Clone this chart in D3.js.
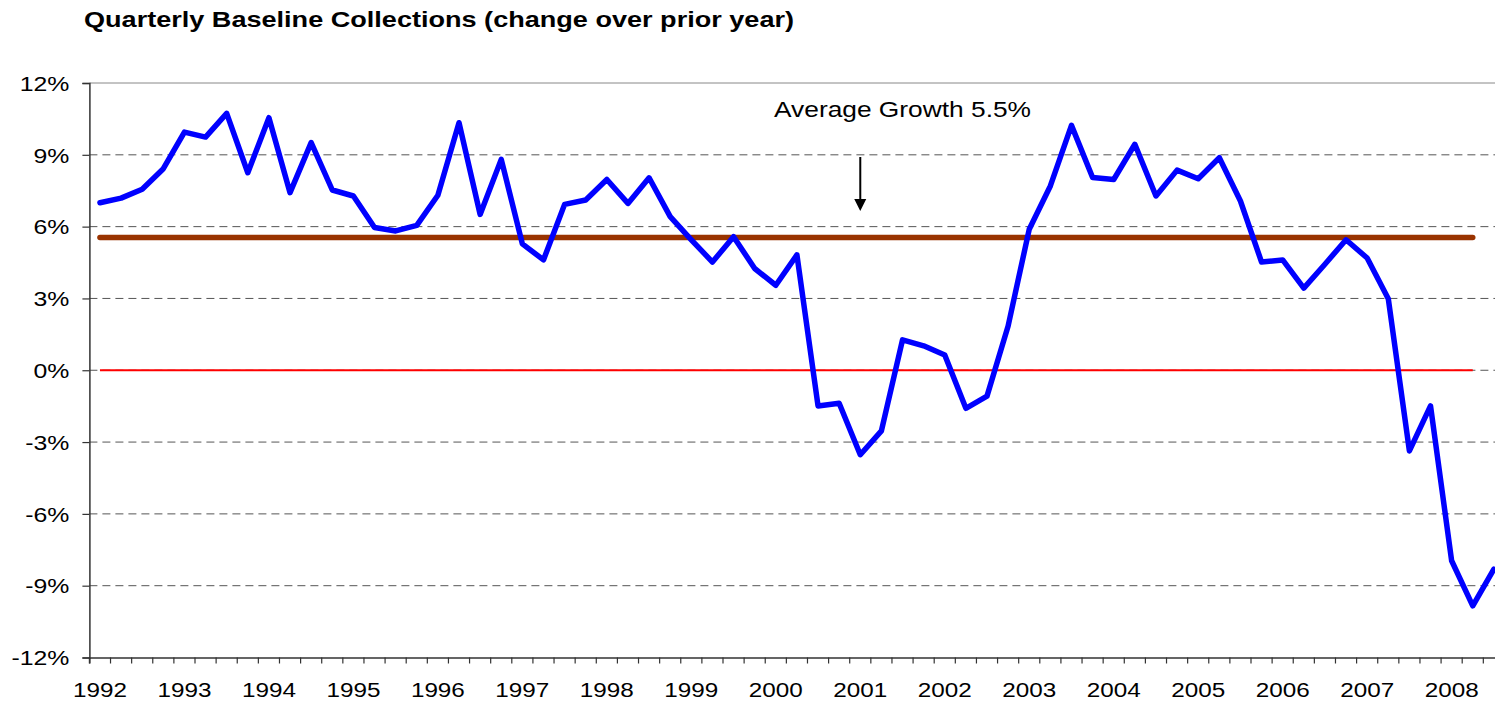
<!DOCTYPE html>
<html>
<head>
<meta charset="utf-8">
<script src="https://cdn.jsdelivr.net/npm/d3@7"></script>
<style>
  html, body { margin: 0; padding: 0; background: #fff; overflow: hidden; }
  text { font-family: "Liberation Sans", Arial, sans-serif; fill: #000; }
</style>
</head>
<body>
<svg id="chart" width="1495" height="703"></svg>
<script>
// ---- Data ----
const quarters = [
  "1992Q1","1992Q2","1992Q3","1992Q4","1993Q1","1993Q2","1993Q3","1993Q4",
  "1994Q1","1994Q2","1994Q3","1994Q4","1995Q1","1995Q2","1995Q3","1995Q4",
  "1996Q1","1996Q2","1996Q3","1996Q4","1997Q1","1997Q2","1997Q3","1997Q4",
  "1998Q1","1998Q2","1998Q3","1998Q4","1999Q1","1999Q2","1999Q3","1999Q4",
  "2000Q1","2000Q2","2000Q3","2000Q4","2001Q1","2001Q2","2001Q3","2001Q4",
  "2002Q1","2002Q2","2002Q3","2002Q4","2003Q1","2003Q2","2003Q3","2003Q4",
  "2004Q1","2004Q2","2004Q3","2004Q4","2005Q1","2005Q2","2005Q3","2005Q4",
  "2006Q1","2006Q2","2006Q3","2006Q4","2007Q1","2007Q2","2007Q3","2007Q4",
  "2008Q1","2008Q2","2008Q3"
];
const growth = [
  7.00, 7.19, 7.56, 8.42, 9.95, 9.74, 10.73, 8.25,
  10.55, 7.42, 9.51, 7.53, 7.28, 5.96, 5.82, 6.05,
  7.31, 10.34, 6.51, 8.81, 5.28, 4.61, 6.93, 7.11,
  7.97, 6.97, 8.04, 6.42, 5.45, 4.52, 5.58, 4.25,
  3.55, 4.82, -1.49, -1.38, -3.53, -2.53, 1.27, 1.02,
  0.64, -1.59, -1.08, 1.85, 5.89, 7.70, 10.23, 8.05,
  7.97, 9.44, 7.28, 8.36, 8.00, 8.88, 7.07, 4.52,
  4.61, 3.43, 4.43, 5.45, 4.69, 2.99, -3.37, -1.49,
  -7.96, -9.84, -8.31
];
const averageGrowth = 5.55;
const referenceRange = ["1992Q1", "2008Q2"];
const yTicks = [-12, -9, -6, -3, 0, 3, 6, 9, 12];
const yearLabels = ["1992","1993","1994","1995","1996","1997","1998","1999","2000",
                    "2001","2002","2003","2004","2005","2006","2007","2008"];
const titleText = "Quarterly Baseline Collections (change over prior year)";
const annotationText = "Average Growth 5.5%";

// ---- Layout ----
const svg = d3.select("#chart");
const plotLeft = 89.4, plotTop = 83, plotBottom = 657.5;
const bandW = 21.12;
const plotRight = plotLeft + bandW * quarters.length;

const x = d3.scaleBand().domain(quarters).range([plotLeft, plotRight]).padding(0);
const cx = q => x(q) + x.bandwidth() / 2;
const y = d3.scaleLinear().domain([-12, 12]).range([plotBottom, plotTop]);

function stretch(sel, sx) {
  sel.each(function () {
    const w = this.getComputedTextLength();
    this.setAttribute("textLength", w * sx);
    this.setAttribute("lengthAdjust", "spacingAndGlyphs");
  });
}
function fitWidth(sel, target) {
  sel.each(function () {
    this.setAttribute("textLength", target);
    this.setAttribute("lengthAdjust", "spacingAndGlyphs");
  });
}

// Gridlines
svg.append("g").selectAll("line")
  .data(yTicks.filter(d => d !== -12 && d !== 12))
  .join("line")
  .attr("x1", plotLeft).attr("x2", 1495)
  .attr("y1", d => y(d)).attr("y2", d => y(d))
  .attr("stroke", "#555").attr("stroke-width", 1)
  .attr("stroke-dasharray", "8,5");
svg.append("line")
  .attr("x1", plotLeft).attr("x2", 1495)
  .attr("y1", y(12)).attr("y2", y(12))
  .attr("stroke", "#888").attr("stroke-width", 1);

// Left axis
const yAxis = svg.append("g")
  .attr("transform", `translate(${plotLeft},0)`)
  .call(d3.axisLeft(y).tickValues(yTicks).tickSize(7).tickPadding(0)
        .tickFormat(d => d + "%"));
yAxis.select(".domain").attr("stroke", "#333").attr("stroke-width", 1.5);
yAxis.selectAll(".tick line").attr("stroke", "#333").attr("stroke-width", 1.2);
yAxis.selectAll(".tick text")
  .attr("x", -20).attr("dy", "0.36em")
  .style("font-size", "20px").style("font-family", "'Liberation Sans', Arial, sans-serif")
  .attr("fill", "#000");
stretch(yAxis.selectAll(".tick text"), 1.24);

// Bottom axis
const xAxis = svg.append("g")
  .attr("transform", `translate(0,${plotBottom})`)
  .call(d3.axisBottom(x).tickSize(6).tickPadding(0)
        .tickFormat(q => q.endsWith("Q1") && yearLabels.includes(q.slice(0, 4)) ? q.slice(0, 4) : ""));
xAxis.select(".domain").attr("stroke", "#333").attr("stroke-width", 1.5);
xAxis.selectAll(".tick line")
  .attr("transform", `translate(${-x.bandwidth() / 2},0)`)
  .attr("stroke", "#333").attr("stroke-width", 1.2);
xAxis.selectAll(".tick text")
  .attr("y", 39.5).attr("dy", null)
  .style("font-size", "19.5px").style("font-family", "'Liberation Sans', Arial, sans-serif")
  .attr("fill", "#000");
fitWidth(xAxis.selectAll(".tick text").filter(function () { return this.textContent !== ""; }), 54);

// Zero line
svg.append("line")
  .attr("x1", cx(referenceRange[0])).attr("x2", cx(referenceRange[1]))
  .attr("y1", y(0)).attr("y2", y(0))
  .attr("stroke", "#ff0000").attr("stroke-width", 2);

// Average line
svg.append("line")
  .attr("x1", cx(referenceRange[0])).attr("x2", cx(referenceRange[1]))
  .attr("y1", y(averageGrowth)).attr("y2", y(averageGrowth))
  .attr("stroke", "#993300").attr("stroke-width", 5.5)
  .attr("stroke-linecap", "round");

// Growth series
const line = d3.line()
  .x((d, i) => cx(quarters[i]))
  .y(d => y(d));
svg.append("path")
  .datum(growth)
  .attr("d", line)
  .attr("fill", "none")
  .attr("stroke", "#0000ff")
  .attr("stroke-width", 5.5)
  .attr("stroke-linejoin", "round")
  .attr("stroke-linecap", "round");

// Annotation + arrow
const annX = cx("2001Q1");
svg.append("line")
  .attr("x1", annX).attr("x2", annX)
  .attr("y1", 157).attr("y2", 201)
  .attr("stroke", "#000").attr("stroke-width", 2);
svg.append("path")
  .attr("d", `M${annX - 6},199 L${annX + 6},199 L${annX},211 Z`)
  .attr("fill", "#000");
const ann = svg.append("text")
  .attr("x", 774).attr("y", 116.5)
  .style("font-size", "22px")
  .text(annotationText);
fitWidth(ann, 257);

// Title
const title = svg.append("text")
  .attr("x", 84).attr("y", 27)
  .style("font-size", "22px").style("font-weight", "bold")
  .text(titleText);
fitWidth(title, 710);
</script>
</body>
</html>
